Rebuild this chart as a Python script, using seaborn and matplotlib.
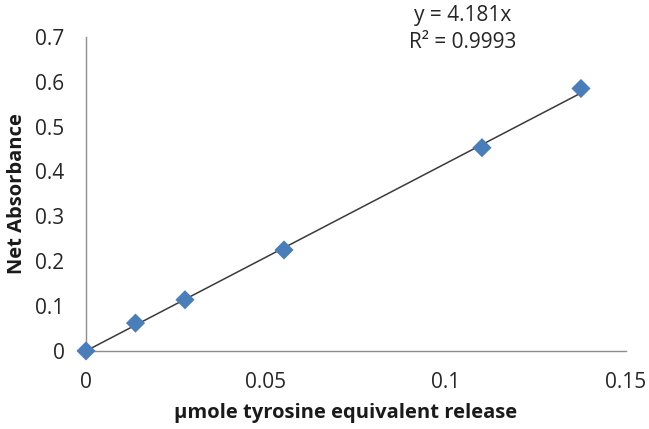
import matplotlib
matplotlib.use("Agg")
import matplotlib.pyplot as plt
import seaborn as sns
import numpy as np
import pandas as pd

# Tyrosine standard curve
tyrosine_umol = [0.0, 0.01375, 0.0275, 0.055, 0.11, 0.1375]
net_absorbance = [0.0, 0.062, 0.114, 0.225, 0.453, 0.585]
slope = 4.181
r_squared = 0.9993

x_ticks = [0, 0.05, 0.1, 0.15]
x_tick_labels = ["0", "0.05", "0.1", "0.15"]
y_ticks = [0, 0.1, 0.2, 0.3, 0.4, 0.5, 0.6, 0.7]
y_tick_labels = ["0", "0.1", "0.2", "0.3", "0.4", "0.5", "0.6", "0.7"]

sns.set_style("white")
plt.rcParams["font.family"] = ["Open Sans", "DejaVu Sans"]

df = pd.DataFrame({"x": tyrosine_umol, "y": net_absorbance})
fit_x = [0.0, max(tyrosine_umol)]
fit = pd.DataFrame({"x": fit_x, "y": [slope * v for v in fit_x]})

fig = plt.figure(figsize=(6.49, 4.29), dpi=100)
ax = fig.add_axes([0.1325, 0.182, 0.832, 0.732])

sns.lineplot(data=fit, x="x", y="y", ax=ax, color="#3a3a3a", linewidth=1.1, zorder=2)
sns.scatterplot(data=df, x="x", y="y", ax=ax, marker="D", s=95, color="#4a7ebb",
                edgecolor="none", zorder=3, clip_on=False)

ax.set_xlim(0, 0.15)
ax.set_ylim(0, 0.7)
ax.set_xticks(x_ticks)
ax.set_xticklabels(x_tick_labels)
ax.set_yticks(y_ticks)
ax.set_yticklabels(y_tick_labels)

for side in ["top", "right"]:
    ax.spines[side].set_visible(False)
for side in ["left", "bottom"]:
    ax.spines[side].set_color("#8c8c8c")
    ax.spines[side].set_linewidth(1.0)

ax.tick_params(axis="both", direction="out", length=4.5, width=1.0, color="#8c8c8c",
               labelsize=15, labelcolor="#262626")
ax.tick_params(axis="x", pad=11)
ax.tick_params(axis="y", pad=11)

ax.set_xlabel("\u00b5mole tyrosine equivalent release", fontsize=14.5, fontweight="bold",
              color="#1a1a1a")
ax.xaxis.set_label_coords(0.48, -0.165)
ax.set_ylabel("Net Absorbance", fontsize=14.5, fontweight="bold", color="#1a1a1a", labelpad=6)

fig.text(463 / 649, 1 - 15 / 429, f"y = {slope}x", ha="center", va="center",
         fontsize=15, color="#262626")
fig.text(463 / 649, 1 - 42 / 429, f"R\u00b2 = {r_squared}", ha="center", va="center",
         fontsize=15, color="#262626")

fig.savefig("out.png", dpi=100)
